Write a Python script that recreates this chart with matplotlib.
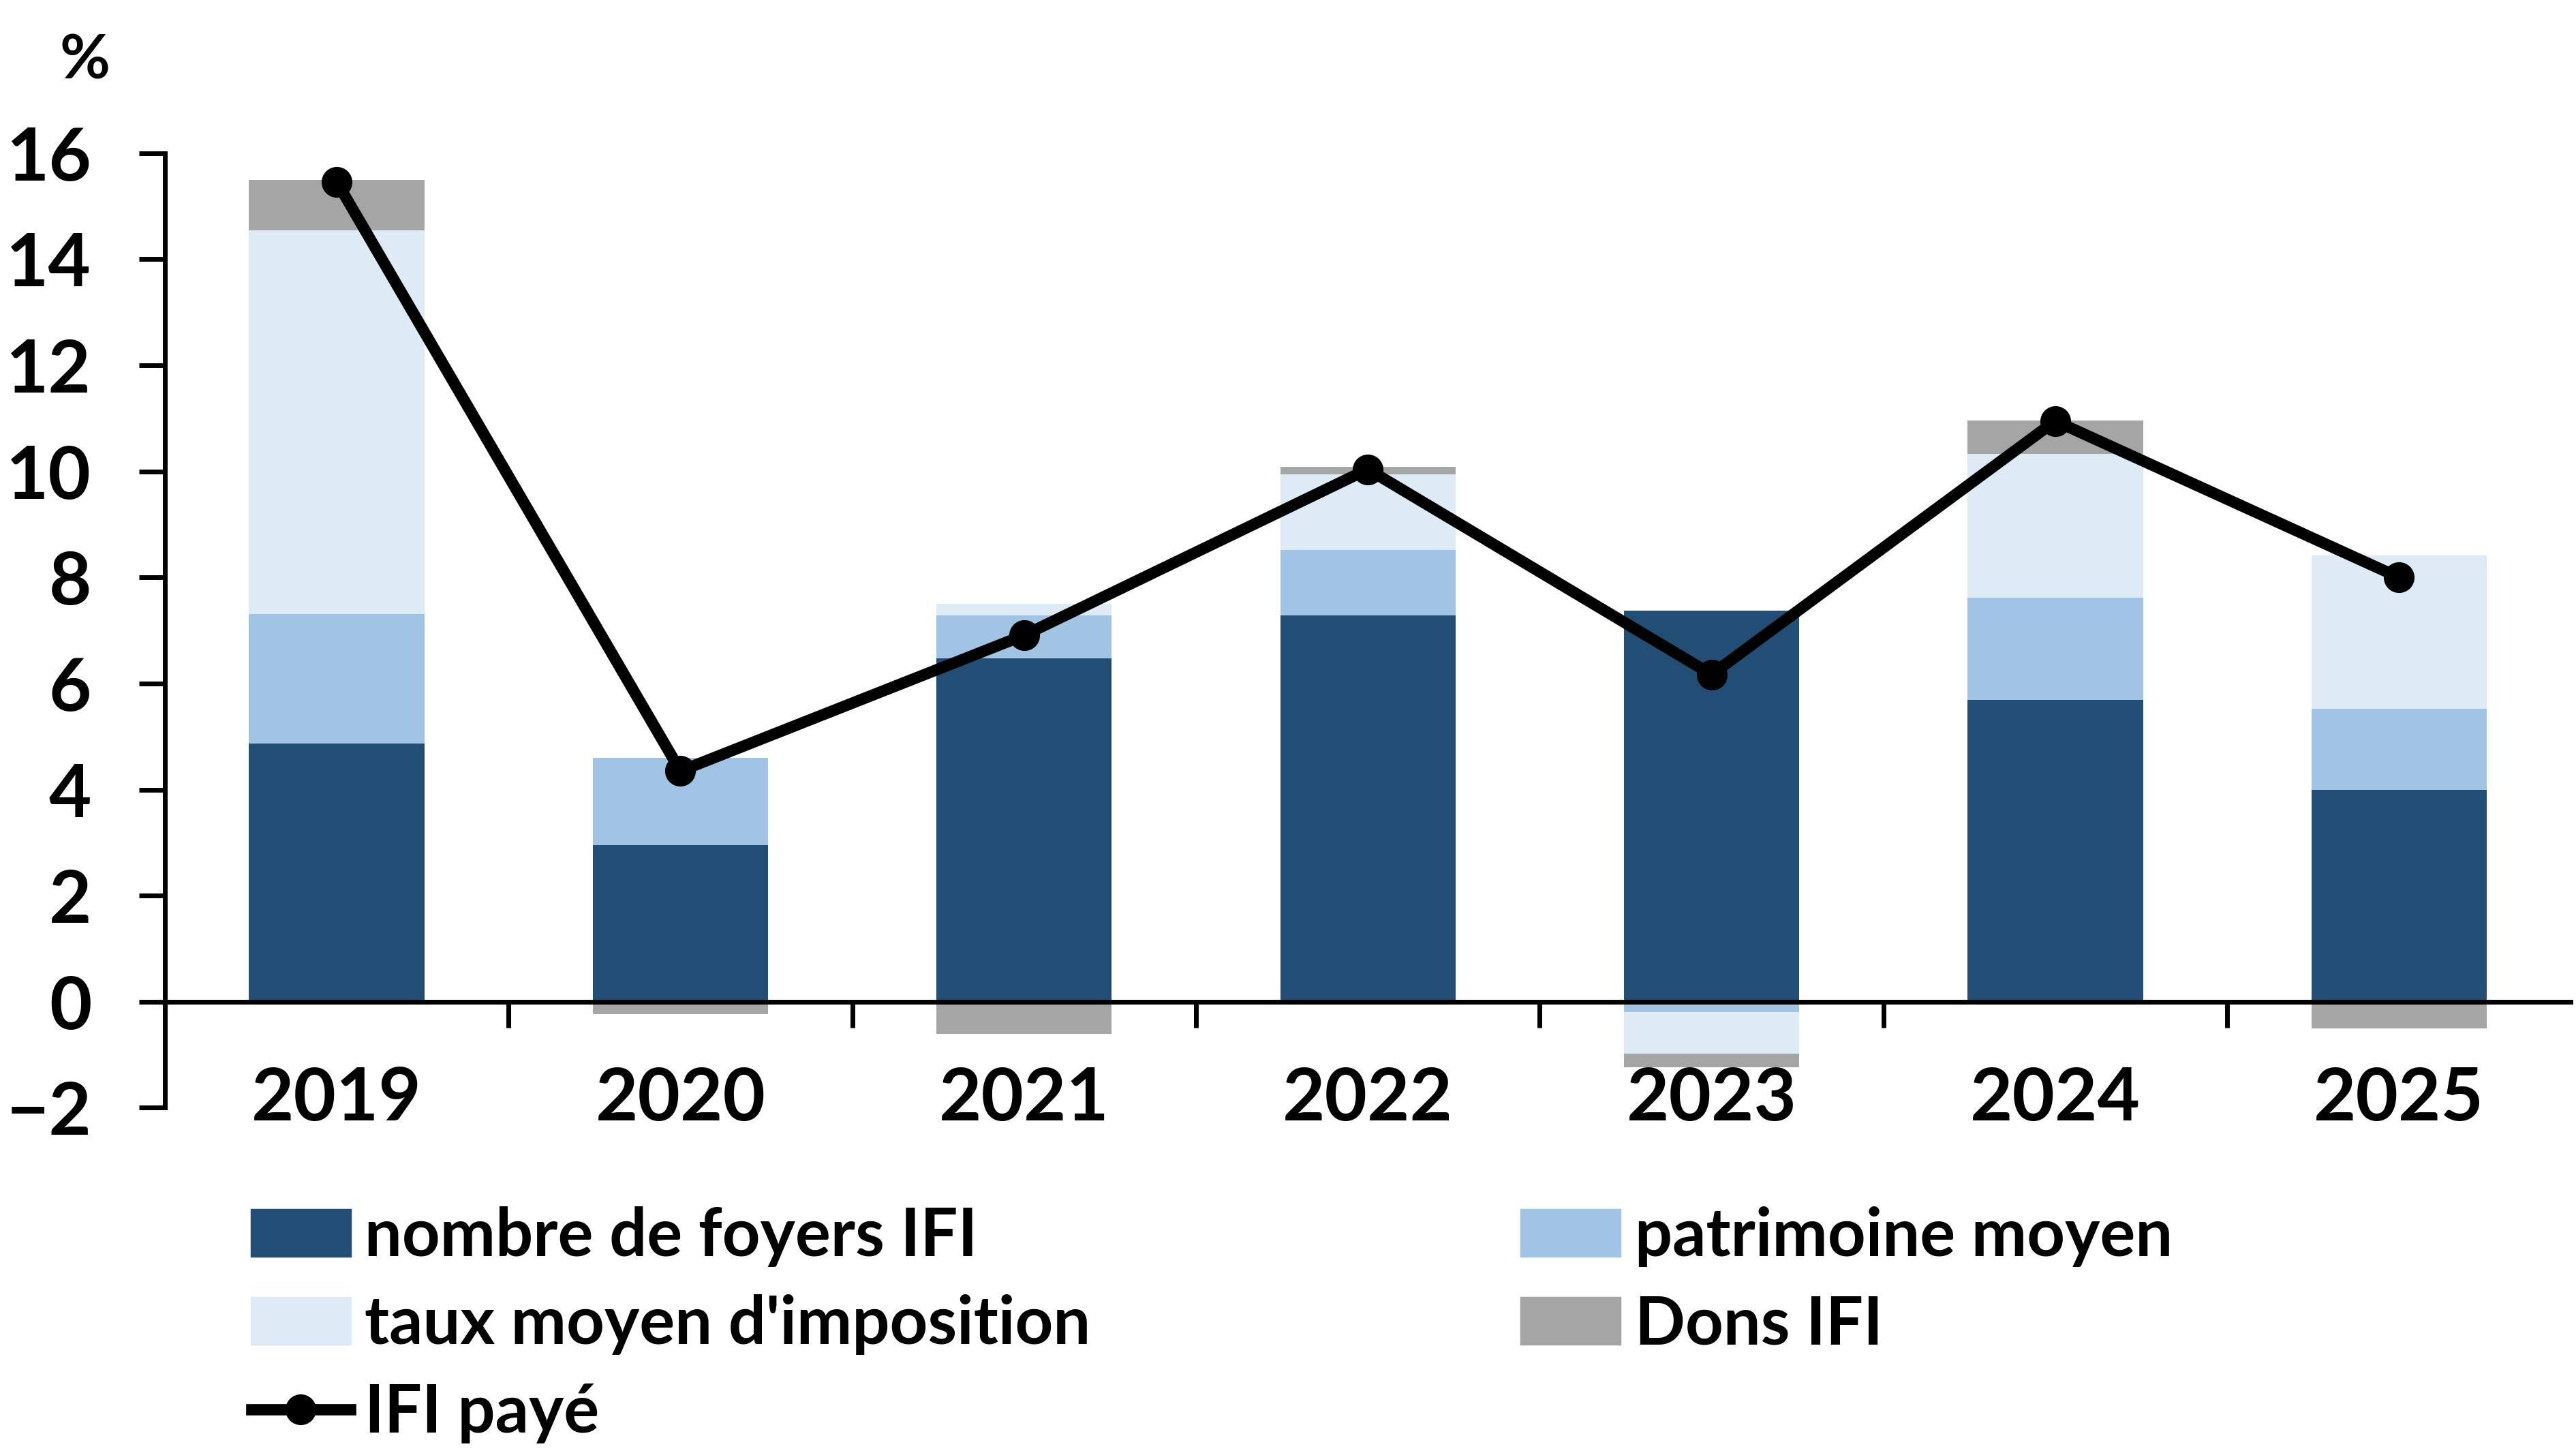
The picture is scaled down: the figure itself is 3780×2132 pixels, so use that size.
import numpy as np
import matplotlib
matplotlib.use("Agg")
import matplotlib.pyplot as plt
from matplotlib.lines import Line2D
from matplotlib.patches import Patch

plt.rcParams['font.family'] = ['Lato', 'DejaVu Sans']
plt.rcParams['font.weight'] = 'bold'

# Données (en points de %)
annees = ['2019', '2020', '2021', '2022', '2023', '2024', '2025']
nombre_foyers = [4.87, 2.95, 6.48, 7.29, 7.38, 5.69, 4.00]
patrimoine_moyen = [2.44, 1.65, 0.80, 1.23, -0.20, 1.93, 1.52]
taux_moyen = [7.23, 0.00, 0.22, 1.43, -0.78, 2.71, 2.90]
dons_ifi = [0.95, -0.24, -0.61, 0.13, -0.25, 0.63, -0.51]
ifi_paye = [15.46, 4.35, 6.91, 10.04, 6.17, 10.95, 8.00]

series = [
    ("nombre de foyers IFI", nombre_foyers, '#224E76'),
    ("patrimoine moyen", patrimoine_moyen, '#A2C4E4'),
    ("taux moyen d'imposition", taux_moyen, '#DEEAF6'),
    ("Dons IFI", dons_ifi, '#A5A5A5'),
]

fig = plt.figure(figsize=(15.12, 8.528), dpi=250)
ax = fig.add_axes([0.064, 0.2376, 0.934, 0.657])

x = np.arange(len(annees))
pos_base = np.zeros(len(annees))
neg_base = np.zeros(len(annees))
for label, vals, color in series:
    vals = np.array(vals, dtype=float)
    bottoms = np.where(vals >= 0, pos_base, neg_base)
    ax.bar(x, vals, width=0.51, bottom=bottoms, color=color, zorder=2)
    pos_base = pos_base + np.clip(vals, 0, None)
    neg_base = neg_base + np.clip(vals, None, 0)

ax.plot(x, ifi_paye, color='black', linewidth=4.8, marker='o',
        markersize=12, zorder=3)

ax.set_xlim(-0.5, len(annees) - 0.5)
ax.set_ylim(-2, 16)
ax.set_yticks(np.arange(-2, 17, 2))
ax.tick_params(axis='y', labelsize=31, length=11, width=2, pad=20)

ax.spines['top'].set_visible(False)
ax.spines['right'].set_visible(False)
ax.spines['left'].set_linewidth(2)
ax.spines['bottom'].set_position(('data', 0))
ax.spines['bottom'].set_linewidth(2)

# graduations entre les années, libellés au centre
ax.set_xticks(x[:-1] + 0.5)
ax.set_xticklabels([])
ax.tick_params(axis='x', which='major', length=11, width=2)
ax.set_xticks(x, minor=True)
ax.set_xticklabels(annees, minor=True)
ax.tick_params(axis='x', which='minor', length=0, labelsize=31, pad=27)

fig.text(0.033, 0.958, '%', fontsize=26, fontweight='bold', ha='center', va='center')

handles = [
    Patch(color=series[0][2]),
    Patch(color=series[2][2]),
    Line2D([], [], color='black', linewidth=4.8, marker='o', markersize=12),
    Patch(color=series[1][2]),
    Patch(color=series[3][2]),
]
labels = [series[0][0], series[2][0], "IFI payé", series[1][0], series[3][0]]
fig.legend(handles, labels, loc='upper left', bbox_to_anchor=(0.0976, 0.17),
           ncol=2, frameon=False, fontsize=28, handlelength=1.49,
           handleheight=0.7, handletextpad=0.22, labelspacing=0.42,
           columnspacing=6.5, borderaxespad=0, borderpad=0)

fig.savefig('out.png', dpi=250)
